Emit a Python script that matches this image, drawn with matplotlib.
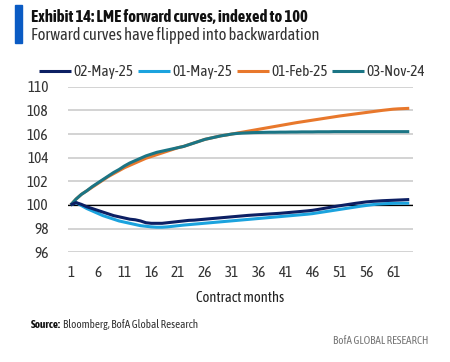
import matplotlib
matplotlib.use("Agg")
import matplotlib.pyplot as plt
from matplotlib.patches import Rectangle
from matplotlib import font_manager
import numpy as np

months = list(range(1, 65))
may02_25 = [100.0, 100.2, 100.05, 99.85, 99.7, 99.55, 99.4, 99.25, 99.1, 99.0,
            98.9, 98.8, 98.75, 98.65, 98.5, 98.45, 98.45, 98.45, 98.5, 98.55,
            98.6, 98.65, 98.7, 98.72, 98.76, 98.8, 98.84, 98.88, 98.92, 98.96,
            99.0, 99.04, 99.08, 99.12, 99.15, 99.18, 99.21, 99.24, 99.27, 99.3,
            99.34, 99.38, 99.42, 99.46, 99.5, 99.55, 99.62, 99.7, 99.78, 99.86,
            99.93, 100.0, 100.07, 100.14, 100.2, 100.26, 100.3, 100.33, 100.36, 100.38,
            100.4, 100.42, 100.44, 100.46]
may01_25 = [100.0, 100.2, 99.95, 99.7, 99.5, 99.3, 99.1, 98.95, 98.8, 98.65,
            98.55, 98.45, 98.35, 98.25, 98.2, 98.15, 98.12, 98.12, 98.15, 98.2,
            98.25, 98.3, 98.34, 98.38, 98.42, 98.46, 98.5, 98.54, 98.58, 98.62,
            98.66, 98.7, 98.74, 98.78, 98.82, 98.86, 98.9, 98.94, 98.98, 99.02,
            99.06, 99.1, 99.14, 99.18, 99.22, 99.27, 99.34, 99.41, 99.48, 99.55,
            99.62, 99.69, 99.76, 99.83, 99.9, 99.96, 100.02, 100.07, 100.1, 100.12,
            100.14, 100.15, 100.15, 100.15]
feb01_25 = [100.0, 100.5, 100.9, 101.2, 101.5, 101.8, 102.1, 102.4, 102.65, 102.9,
            103.15, 103.35, 103.55, 103.75, 103.95, 104.1, 104.25, 104.4, 104.55, 104.7,
            104.85, 104.95, 105.1, 105.25, 105.4, 105.55, 105.65, 105.75, 105.85, 105.92,
            106.0, 106.08, 106.16, 106.24, 106.32, 106.4, 106.48, 106.56, 106.64, 106.72,
            106.8, 106.88, 106.96, 107.03, 107.1, 107.17, 107.24, 107.31, 107.38, 107.45,
            107.52, 107.58, 107.64, 107.7, 107.76, 107.82, 107.88, 107.94, 108.0, 108.05,
            108.1, 108.13, 108.15, 108.17]
nov03_24 = [100.0, 100.5, 100.9, 101.2, 101.55, 101.85, 102.15, 102.45, 102.75, 103.0,
            103.3, 103.55, 103.75, 103.95, 104.15, 104.3, 104.45, 104.55, 104.65, 104.75,
            104.85, 104.95, 105.1, 105.25, 105.4, 105.55, 105.65, 105.75, 105.85, 105.92,
            106.0, 106.05, 106.08, 106.1, 106.12, 106.13, 106.14, 106.15, 106.15, 106.16,
            106.16, 106.17, 106.17, 106.18, 106.18, 106.18, 106.19, 106.19, 106.19, 106.2,
            106.2, 106.2, 106.2, 106.2, 106.2, 106.2, 106.2, 106.2, 106.2, 106.2,
            106.2, 106.2, 106.2, 106.2]
series_names = ["02-May-25", "01-May-25", "01-Feb-25", "03-Nov-24"]
xticks = [1, 6, 11, 16, 21, 26, 31, 36, 41, 46, 51, 56, 61]
yticks = [96, 98, 100, 102, 104, 106, 108, 110]

names = {f.name for f in font_manager.fontManager.ttflist}
main_font = 'Lato'
for cand in ['Asap Condensed', 'Barlow Semi Condensed']:
    if cand in names:
        main_font = cand
        break
plt.rcParams['font.family'] = [main_font, 'DejaVu Sans']

fig = plt.figure(figsize=(4.5, 3.62), dpi=100)
ax = fig.add_axes([68/450, 1-252.3/362, (413-68)/450, (252.3-86.7)/362])

c_navy = "#0c1f63"
c_light = "#1ba3de"
c_orange = "#e8782c"
c_teal = "#1b7585"

ax.axhline(100, color="black", lw=0.9, zorder=2)
l3, = ax.plot(months, feb01_25, color=c_orange, lw=2.2, zorder=3, solid_capstyle='butt')
l4, = ax.plot(months, nov03_24, color=c_teal, lw=2.2, zorder=4, solid_capstyle='butt')
l2, = ax.plot(months, may01_25, color=c_light, lw=2.2, zorder=3, solid_capstyle='butt')
l1, = ax.plot(months, may02_25, color=c_navy, lw=2.2, zorder=4, solid_capstyle='butt')

ax.set_xlim(0.5, 64.7)
ax.set_ylim(96, 110)
ax.set_yticks(yticks)
ax.set_xticks(xticks)
ax.grid(axis='y', color="#c8c8c8", lw=1.1)
ax.set_axisbelow(True)
for s in ax.spines.values():
    s.set_visible(False)
ax.tick_params(length=0, labelsize=11, colors="#333333")
ax.tick_params(axis='y', pad=14)
ax.tick_params(axis='x', pad=10)
ax.set_xlabel("Contract months", fontsize=10.5, color="#222222", labelpad=8)

fig.legend([l1, l2, l3, l4], series_names, loc='center', ncol=4,
           bbox_to_anchor=(232/450, 1-72/362), frameon=False,
           fontsize=11, handlelength=2.1, handletextpad=0.15, columnspacing=0.3,
           labelcolor="#333333")

fig.patches.append(Rectangle((15/450, 1-43/362), 7/450, 38/362, transform=fig.transFigure,
                             color="#0a5bc4"))
fig.text(31/450, 1-17/362, "Exhibit 14: LME forward curves, indexed to 100", fontsize=12,
         fontweight='bold', va='center', ha='left', color="#111111")
fig.text(31/450, 1-35/362, "Forward curves have flipped into backwardation", fontsize=11.9,
         va='center', ha='left', color="#333333")
t1 = fig.text(31/450, 1-325/362, "Source:", fontsize=8, fontweight='bold',
              va='center', ha='left', color="#111111")
fig.canvas.draw()
bb = t1.get_window_extent()
fig.text(bb.x1/450 + 2/450, 1-325/362, "Bloomberg, BofA Global Research", fontsize=8,
         va='center', ha='left', color="#333333")
fig.text(428/450, 1-340/362, "BofA GLOBAL RESEARCH", fontsize=8, va='center', ha='right',
         color="#777777")

fig.savefig("out.png", dpi=100)
